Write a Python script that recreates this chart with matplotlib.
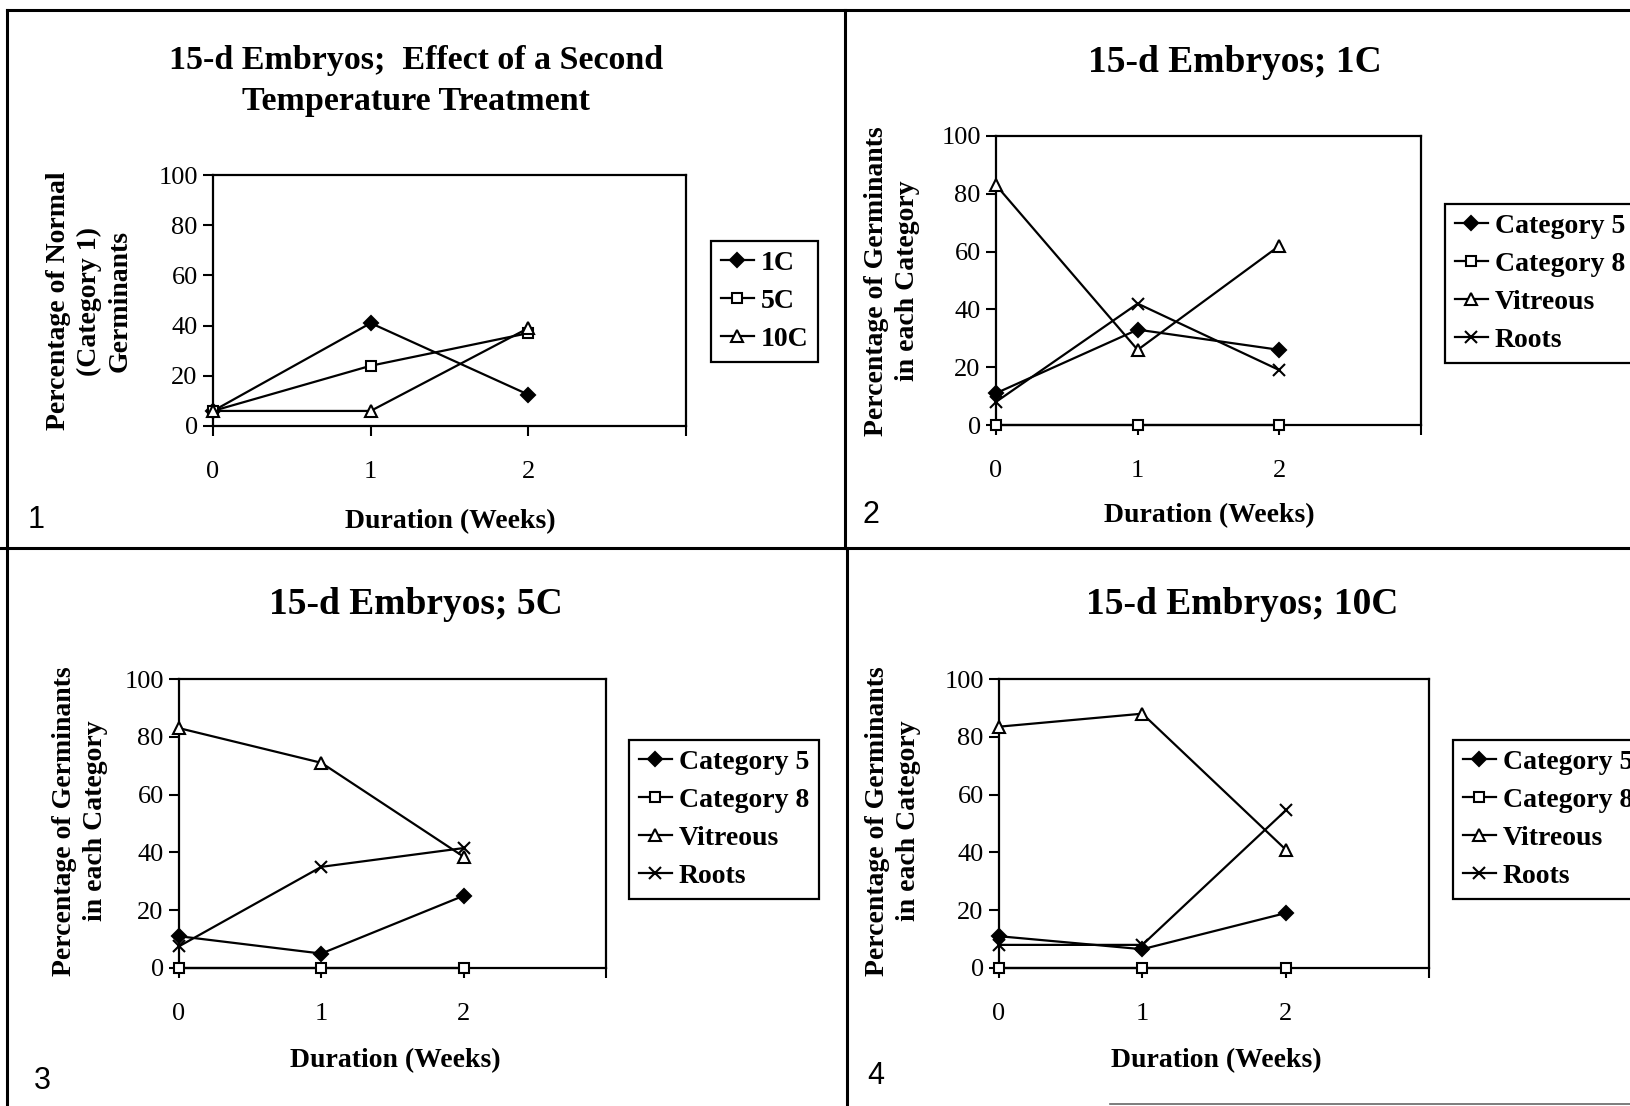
import matplotlib.pyplot as plt
from matplotlib.lines import Line2D

plt.rcParams['font.family'] = ['Liberation Serif', 'DejaVu Serif']

weeks = [0, 1, 2]

# panel 1: normal (category 1) germinants after a second temperature treatment
normal_1c = [6, 41, 12.5]
normal_5c = [6, 24, 37]
normal_10c = [6, 6, 39]

# panels 2-4: category breakdown at each temperature
cat5_1c = [11, 33, 26]
cat8_1c = [0, 0, 0]
vitreous_1c = [83, 26, 62]
roots_1c = [8, 42, 19]

cat5_5c = [11, 5, 25]
cat8_5c = [0, 0, 0]
vitreous_5c = [83, 71, 38.5]
roots_5c = [7.5, 35, 41.5]

cat5_10c = [11, 6.5, 19]
cat8_10c = [0, 0, 0]
vitreous_10c = [83.5, 88, 41]
roots_10c = [8, 8, 54.5]

W, H = 1630, 1106
fig = plt.figure(figsize=(W / 100, H / 100), dpi=100)

markers = ['D', 's', '^', 'x']
facecolors = ['black', 'white', 'white', 'black']
msizes = [7, 7, 8.5, 9]


def fx(px):
    return px / W


def fy(py):
    return 1 - py / H


def setup_axes(rect):
    ax = fig.add_axes(rect)
    ax.set_xlim(0, 3)
    ax.set_ylim(0, 100)
    ax.set_xticks([0, 1, 2, 3])
    ax.set_xticklabels(['0', '1', '2', ''])
    ax.set_yticks([0, 20, 40, 60, 80, 100])
    for s in ax.spines.values():
        s.set_linewidth(1.6)
    ax.tick_params(axis='x', direction='out', length=7, width=1.5, pad=18, labelsize=19)
    ax.tick_params(axis='y', direction='out', length=7, width=1.5, pad=4, labelsize=19)
    return ax


def draw_series(ax, series, labels, legend_at):
    for i, (vals, lab) in enumerate(zip(series, labels)):
        ax.plot(weeks, vals, color='black', lw=1.6, marker=markers[i],
                ms=msizes[i], mfc=facecolors[i], mec='black', mew=1.5,
                label=lab, clip_on=False, zorder=3)
    leg = ax.legend(loc='upper left', bbox_to_anchor=legend_at,
                    bbox_transform=fig.transFigure, borderaxespad=0,
                    fancybox=False, framealpha=1, edgecolor='black',
                    prop={'weight': 'bold', 'size': 20},
                    handlelength=1.2, handletextpad=0.25, labelspacing=0.45,
                    borderpad=0.35)
    leg.get_frame().set_linewidth(1.6)


# panel 1
ax1 = setup_axes([fx(213), fy(426), fx(686 - 213), (426 - 175) / H])
draw_series(ax1, [normal_1c, normal_5c, normal_10c], ['1C', '5C', '10C'],
            (fx(711), fy(241)))
fig.text(fx(416), fy(81), '15-d Embryos;  Effect of a Second\nTemperature Treatment',
         ha='center', va='center', fontsize=24.5, fontweight='bold', linespacing=1.4)
fig.text(fx(89), fy(301), 'Percentage of Normal\n(Category 1)\nGerminants',
         ha='center', va='center', rotation=90, fontsize=20, fontweight='bold',
         linespacing=1.3)
fig.text(fx(450), fy(522), 'Duration (Weeks)', ha='center', va='center',
         fontsize=20, fontweight='bold')

cat_labels = ['Category 5', 'Category 8', 'Vitreous', 'Roots']
ylab = 'Percentage of Germinants\nin each Category'

# panel 2
ax2 = setup_axes([fx(996), fy(425), fx(1421 - 996), 289 / H])
draw_series(ax2, [cat5_1c, cat8_1c, vitreous_1c, roots_1c], cat_labels,
            (fx(1445), fy(204)))
fig.text(fx(1235), fy(63), '15-d Embryos; 1C', ha='center', va='center',
         fontsize=27, fontweight='bold')
fig.text(fx(892), fy(281), ylab, ha='center', va='center', rotation=90,
         fontsize=20, fontweight='bold', linespacing=1.35)
fig.text(fx(1209), fy(516), 'Duration (Weeks)', ha='center', va='center',
         fontsize=20, fontweight='bold')

# panel 3
ax3 = setup_axes([fx(179), fy(968), fx(606 - 179), 289 / H])
draw_series(ax3, [cat5_5c, cat8_5c, vitreous_5c, roots_5c], cat_labels,
            (fx(629), fy(740)))
fig.text(fx(416), fy(604), '15-d Embryos; 5C', ha='center', va='center',
         fontsize=27, fontweight='bold')
fig.text(fx(80), fy(821), ylab, ha='center', va='center', rotation=90,
         fontsize=20, fontweight='bold', linespacing=1.35)
fig.text(fx(395), fy(1061), 'Duration (Weeks)', ha='center', va='center',
         fontsize=20, fontweight='bold')

# panel 4
ax4 = setup_axes([fx(999), fy(968), fx(1429 - 999), 289 / H])
draw_series(ax4, [cat5_10c, cat8_10c, vitreous_10c, roots_10c], cat_labels,
            (fx(1453), fy(740)))
fig.text(fx(1242), fy(604), '15-d Embryos; 10C', ha='center', va='center',
         fontsize=27, fontweight='bold')
fig.text(fx(893), fy(821), ylab, ha='center', va='center', rotation=90,
         fontsize=20, fontweight='bold', linespacing=1.35)
fig.text(fx(1216), fy(1061), 'Duration (Weeks)', ha='center', va='center',
         fontsize=20, fontweight='bold')

# panel numbers
for num, (px, py) in zip(['1', '2', '3', '4'],
                         [(36, 520), (871, 515), (42, 1081), (876, 1076)]):
    fig.text(fx(px), fy(py), num, ha='center', va='center', fontsize=22,
             family='Liberation Sans')

# frame around the four panels
frame = dict(color='black', lw=2.2, transform=fig.transFigure)
fig.add_artist(Line2D([fx(7), 1], [fy(10), fy(10)], **frame))
fig.add_artist(Line2D([fx(7), fx(7)], [fy(10), 0], **frame))
fig.add_artist(Line2D([fx(845), fx(845)], [fy(10), fy(548)], **frame))
fig.add_artist(Line2D([fx(847), fx(847)], [fy(548), 0], **frame))
fig.add_artist(Line2D([0, 1], [fy(548), fy(548)], **frame))
fig.add_artist(Line2D([fx(1110), 1], [fy(1104), fy(1104)], color='0.4', lw=1.2,
                      transform=fig.transFigure))

fig.savefig('out.png', dpi=100)
